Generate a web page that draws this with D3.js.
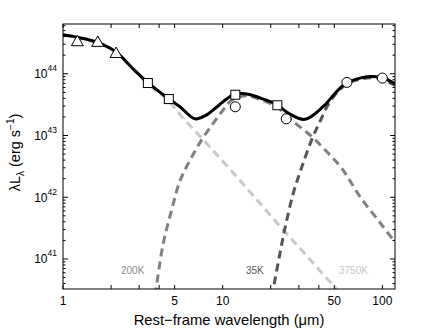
<!DOCTYPE html>
<html>
<head>
<meta charset="utf-8">
<script src="https://cdn.jsdelivr.net/npm/d3@7"></script>
<style>
  html, body { margin: 0; padding: 0; background: #fff; }
  svg { display: block; }
  text { font-family: "Liberation Sans", Arial, Helvetica, sans-serif; }
</style>
</head>
<body>
<svg id="chart" width="436" height="328"></svg>
<script>
// ---------- data (wavelength in micron, log10 of lambda*L_lambda in erg/s) ----------
const triLambda = [1.23, 1.65, 2.15];
const triLogL   = [44.51, 44.50, 44.32];

const sqLambda  = [3.4, 4.6, 12, 22];
const sqLogL    = [43.85, 43.59, 43.66, 43.49];

const circLambda = [12, 25, 60, 100];
const circLogL   = [43.465, 43.27, 43.86, 43.93];

const totalLambda = [1.0, 1.224, 1.633, 2.178, 2.705, 3.372, 4.590, 5.402, 6.706, 7.940, 8.733, 10.59, 11.94, 14.14, 17.96, 21.98, 25.75, 32.76, 42.65, 51.74, 59.77, 72.39, 83.61, 99.0, 119.9];
const totalLogL   = [44.632, 44.592, 44.511, 44.341, 44.097, 43.865, 43.595, 43.465, 43.270, 43.335, 43.416, 43.590, 43.676, 43.671, 43.590, 43.497, 43.363, 43.262, 43.470, 43.713, 43.854, 43.930, 43.956, 43.940, 43.838];

const stellarLambda = [1.0, 1.224, 1.633, 2.178, 2.705, 3.372, 4.590, 5.537, 8.696, 14.82, 23.96, 35.21, 51.74, 62.68];
const stellarLogL   = [44.624, 44.584, 44.503, 44.332, 44.089, 43.846, 43.554, 43.308, 42.760, 42.087, 41.470, 40.992, 40.509, 40.270];

const warmLambda = [3.661, 3.823, 4.247, 4.793, 5.402, 6.178, 7.387, 8.733, 10.09, 11.38, 14.14, 17.96, 21.98, 27.68, 36.09, 44.80, 55.61, 72.39, 96.61, 119.9];
const warmLogL   = [40.206, 40.509, 41.255, 41.795, 42.265, 42.578, 42.930, 43.201, 43.416, 43.570, 43.643, 43.562, 43.457, 43.227, 42.983, 42.740, 42.471, 42.010, 41.589, 41.276];

const coldLambda = [20.36, 20.74, 22.85, 24.55, 27.68, 31.23, 36.09, 40.68, 46.97, 55.61, 62.68, 72.39, 83.61, 99.0, 119.9];
const coldLogL   = [40.384, 40.509, 41.093, 41.498, 42.066, 42.484, 42.930, 43.227, 43.551, 43.773, 43.862, 43.911, 43.935, 43.919, 43.814];

const componentNames = ["200K", "35K", "3750K"];
const xTickLabels = [1, 5, 10, 50, 100];
const xTickAll = [1, 2, 3, 4, 5, 10, 20, 30, 40, 50, 100];
const yTickExps = [41, 42, 43, 44];

// ---------- layout ----------
const svg = d3.select("#chart");
const L = 63, R = 395, T = 24, B = 289;
const x = d3.scaleLog().domain([1, 120]).range([L, R]);
const y = d3.scaleLog().domain([Math.pow(10, 40.514), Math.pow(10, 44.806)]).range([B, T]);

const zip = (a, b) => a.map((v, i) => [v, Math.pow(10, b[i])]);

svg.append("defs").append("clipPath").attr("id", "plotclip")
  .append("rect").attr("x", L).attr("y", T).attr("width", R - L).attr("height", B - T);

const plot = svg.append("g").attr("clip-path", "url(#plotclip)");
const line = d3.line().x(d => x(d[0])).y(d => y(d[1])).curve(d3.curveCatmullRom.alpha(0.5));

const comps = [
  { data: zip(stellarLambda, stellarLogL), color: "#c8c8c8" },
  { data: zip(warmLambda, warmLogL), color: "#808080" },
  { data: zip(coldLambda, coldLogL), color: "#555555" }
];
comps.forEach(c => {
  plot.append("path").attr("d", line(c.data))
    .attr("fill", "none").attr("stroke", c.color)
    .attr("stroke-width", 3).attr("stroke-dasharray", "8,5");
});

plot.append("path").attr("d", line(zip(totalLambda, totalLogL)))
  .attr("fill", "none").attr("stroke", "#000").attr("stroke-width", 3);

// markers
const circ = zip(circLambda, circLogL);
svg.append("g").selectAll("circle").data(circ).join("circle")
  .attr("cx", d => x(d[0])).attr("cy", d => y(d[1])).attr("r", 5)
  .attr("fill", "#fff").attr("stroke", "#000").attr("stroke-width", 1);

const sq = zip(sqLambda, sqLogL);
svg.append("g").selectAll("rect").data(sq).join("rect")
  .attr("x", d => x(d[0]) - 4.5).attr("y", d => y(d[1]) - 4.5)
  .attr("width", 9).attr("height", 9)
  .attr("fill", "#fff").attr("stroke", "#000").attr("stroke-width", 1);

const tri = zip(triLambda, triLogL);
const triSym = d3.symbol().type(d3.symbolTriangle).size(62);
svg.append("g").selectAll("path").data(tri).join("path")
  .attr("d", triSym)
  .attr("transform", d => `translate(${x(d[0])},${y(d[1])})`)
  .attr("fill", "#fff").attr("stroke", "#000").attr("stroke-width", 1);

// component labels
const labelPos = [[121, "#8a8a8a"], [246, "#555555"], [339, "#c8c8c8"]];
componentNames.forEach((n, i) => {
  svg.append("text").attr("x", labelPos[i][0]).attr("y", 274)
    .attr("font-size", 10).attr("fill", labelPos[i][1]).text(n);
});

// frame
svg.append("rect").attr("x", L).attr("y", T).attr("width", R - L).attr("height", B - T)
  .attr("fill", "none").attr("stroke", "#000").attr("stroke-width", 1);

// x ticks (inward, bottom and top)
const axG = svg.append("g").attr("stroke", "#000").attr("stroke-width", 1);
xTickAll.forEach(v => {
  const px = x(v);
  axG.append("line").attr("x1", px).attr("x2", px).attr("y1", B).attr("y2", B - 4);
  axG.append("line").attr("x1", px).attr("x2", px).attr("y1", T).attr("y2", T + 4);
});
xTickLabels.forEach(v => {
  svg.append("text").attr("x", x(v)).attr("y", 305).attr("text-anchor", "middle")
    .attr("font-size", 12).text(v);
});

// y ticks (major + minor, inward, left and right)
for (let e = 40; e <= 44; e++) {
  for (let m = 1; m <= 9; m++) {
    const v = m * Math.pow(10, e);
    const py = y(v);
    if (py < T - 0.1 || py > B + 0.1) continue;
    const len = m === 1 ? 5 : 2.5;
    axG.append("line").attr("x1", L).attr("x2", L + len).attr("y1", py).attr("y2", py);
    axG.append("line").attr("x1", R).attr("x2", R - len).attr("y1", py).attr("y2", py);
  }
}
yTickExps.forEach(e => {
  const t = svg.append("text").attr("x", 57).attr("y", y(Math.pow(10, e)) + 4.5)
    .attr("text-anchor", "end").attr("font-size", 12);
  t.append("tspan").text("10");
  t.append("tspan").attr("font-size", 8.5).attr("dy", -7).text(e);
});

// axis titles
svg.append("text").attr("x", (L + R) / 2).attr("y", 325).attr("text-anchor", "middle")
  .attr("font-size", 14.8).text("Rest\u2212frame wavelength (\u03bcm)");

const yt = svg.append("text").attr("transform", `translate(20,${(T + B) / 2 - 4}) rotate(-90)`)
  .attr("text-anchor", "middle").attr("font-size", 14.5);
yt.append("tspan").text("\u03bbL");
yt.append("tspan").attr("font-size", 10).attr("dy", 4).text("\u03bb");
yt.append("tspan").attr("dy", -4).text(" (erg s");
yt.append("tspan").attr("font-size", 10).attr("dy", -6).text("\u22121");
yt.append("tspan").attr("dy", 6).text(")");
</script>
</body>
</html>
